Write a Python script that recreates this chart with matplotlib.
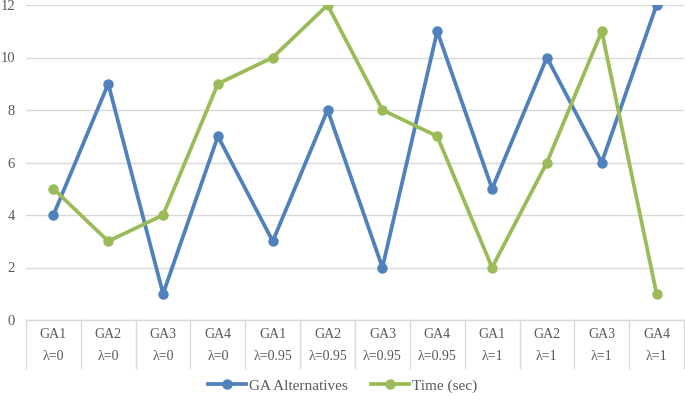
import numpy as np
import matplotlib.pyplot as plt
import matplotlib.transforms as mtransforms

plt.rcParams['font.family'] = ['Liberation Serif', 'DejaVu Serif']

algos = ["GA1", "GA2", "GA3", "GA4"] * 3
lambdas = ["λ=0"] * 4 + ["λ=0.95"] * 4 + ["λ=1"] * 4
ga_alternatives = [4, 9, 1, 7, 3, 8, 2, 11, 5, 10, 6, 12]
time_sec = [5, 3, 4, 9, 10, 12, 8, 7, 2, 6, 11, 1]

blue = "#4F81BD"
green = "#9BBB59"
grid_c = "#D9D9D9"
text_c = "#595959"

fig = plt.figure(figsize=(6.85, 3.99), dpi=100)
ax = fig.add_axes([26 / 685, 1 - 320 / 399, 658 / 685, 315 / 399])

x = np.arange(len(algos))
ax.plot(x, ga_alternatives, color=blue, lw=2.7, marker="o", ms=6.5,
        label="GA Alternatives", zorder=3)
ax.plot(x, time_sec, color=green, lw=2.7, marker="o", ms=6.5,
        label="Time (sec)", zorder=3)

ax.set_xlim(-0.5, len(algos) - 0.5)
ax.set_ylim(0, 12)
ax.set_yticks(range(0, 13, 2))
ax.yaxis.grid(True, color=grid_c, lw=1)
ax.set_axisbelow(True)
for s in ["left", "right", "top"]:
    ax.spines[s].set_visible(False)
ax.spines["bottom"].set_color(grid_c)
ax.spines["bottom"].set_linewidth(1)
ax.tick_params(axis="y", length=0, pad=8, labelsize=10.5, labelcolor=text_c)
ax.tick_params(axis="x", length=0, labelbottom=False)

# category table under the axis
trans = mtransforms.blended_transform_factory(ax.transData, ax.transAxes)
px = 1 / 315
for b in np.arange(-0.5, len(algos), 1.0):
    ax.plot([b, b], [0, -48 * px], transform=trans, color=grid_c, lw=1,
            clip_on=False)
for i, (a, l) in enumerate(zip(algos, lambdas)):
    ax.text(i, -15 * px, a, transform=trans, ha="center", va="center",
            fontsize=10, color=text_c)
    ax.text(i, -36 * px, l, transform=trans, ha="center", va="center",
            fontsize=10, color=text_c)

leg = fig.legend(loc="center", bbox_to_anchor=(0.5, 1 - 386 / 399), ncol=2,
                 frameon=False, fontsize=11, handlelength=2.5,
                 columnspacing=1.5, handletextpad=0.2)
for t in leg.get_texts():
    t.set_color(text_c)

fig.savefig("out.png", dpi=100)
